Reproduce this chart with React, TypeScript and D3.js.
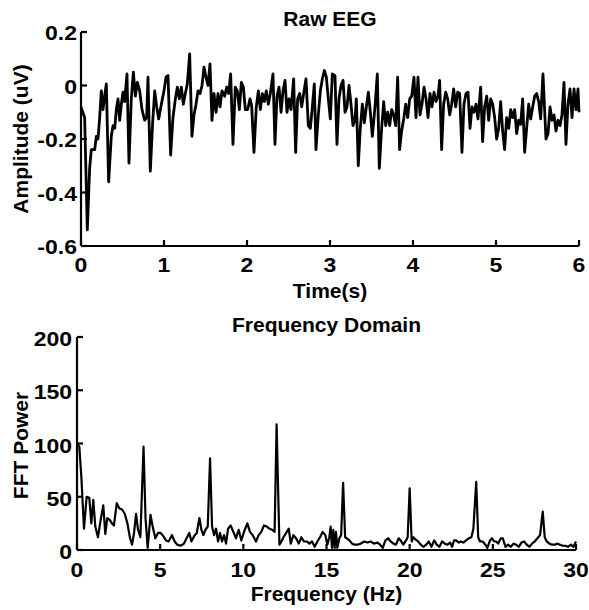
import React from "react";
import * as d3 from "d3";

// ---------- Raw EEG (time in s, amplitude in uV) ----------
const eegTime = [
  0, 0.044, 0.076, 0.104, 0.124, 0.165, 0.185, 0.205, 0.225, 0.245, 0.265, 0.285, 0.305, 0.333, 0.365, 0.386,
  0.406, 0.426, 0.446, 0.466, 0.486, 0.506, 0.526, 0.554, 0.578, 0.606, 0.631, 0.655, 0.679, 0.707, 0.735, 0.767,
  0.791, 0.807, 0.835, 0.863, 0.888, 0.912, 0.936, 0.968, 1.0, 1.024, 1.048, 1.08, 1.108, 1.137, 1.161, 1.185,
  1.209, 1.233, 1.257, 1.281, 1.309, 1.337, 1.361, 1.386, 1.41, 1.434, 1.458, 1.482, 1.506, 1.53, 1.554, 1.578,
  1.602, 1.627, 1.651, 1.675, 1.699, 1.731, 1.755, 1.779, 1.803, 1.831, 1.859, 1.884, 1.908, 1.932, 1.956, 1.98,
  2.008, 2.036, 2.056, 2.084, 2.112, 2.137, 2.161, 2.185, 2.209, 2.233, 2.257, 2.281, 2.313, 2.337, 2.361, 2.386,
  2.41, 2.434, 2.458, 2.482, 2.506, 2.53, 2.562, 2.586, 2.61, 2.635, 2.659, 2.683, 2.711, 2.739, 2.763, 2.787,
  2.811, 2.831, 2.859, 2.884, 2.908, 2.932, 2.956, 2.98, 3.004, 3.028, 3.06, 3.084, 3.108, 3.133, 3.157, 3.181,
  3.205, 3.229, 3.253, 3.277, 3.301, 3.317, 3.341, 3.365, 3.39, 3.414, 3.438, 3.462, 3.486, 3.51, 3.542, 3.57,
  3.594, 3.622, 3.647, 3.671, 3.695, 3.719, 3.743, 3.767, 3.791, 3.815, 3.839, 3.863, 3.888, 3.912, 3.936, 3.96,
  3.984, 4.012, 4.036, 4.06, 4.084, 4.108, 4.133, 4.157, 4.181, 4.205, 4.229, 4.253, 4.277, 4.301, 4.321, 4.345,
  4.369, 4.394, 4.418, 4.442, 4.466, 4.49, 4.514, 4.538, 4.562, 4.59, 4.614, 4.639, 4.663, 4.687, 4.711, 4.735,
  4.759, 4.783, 4.815, 4.839, 4.863, 4.888, 4.912, 4.936, 4.96, 4.984, 5.008, 5.032, 5.056, 5.08, 5.104, 5.128,
  5.153, 5.177, 5.201, 5.225, 5.249, 5.273, 5.297, 5.321, 5.345, 5.369, 5.394, 5.418, 5.442, 5.466, 5.49, 5.514,
  5.538, 5.566, 5.602, 5.627, 5.651, 5.675, 5.699, 5.723, 5.747, 5.771, 5.795, 5.819, 5.843, 5.867, 5.892, 5.916,
  5.94, 5.964, 5.988, 6.0,
];
const eegAmp = [
  -0.08, -0.12, -0.54, -0.31, -0.24, -0.24, -0.19, -0.2, -0.12, -0.02, -0.09, -0.04, 0.006, -0.36, -0.19, -0.15,
  -0.16, -0.09, -0.05, -0.13, -0.07, -0.025, -0.06, 0.043, -0.29, -0.05, 0.05, -0.04, 0.012, -0.02, -0.09, -0.13,
  -0.12, 0.031, -0.32, -0.14, -0.02, -0.08, -0.125, -0.07, -0.02, 0.031, 0.037, -0.26, -0.12, -0.05, -0.006, -0.05,
  -0.006, -0.07, -0.03, 0.006, 0.118, -0.19, -0.11, -0.07, -0.02, -0.03, 0, 0.069, 0.031, 0, 0.081, -0.13,
  -0.03, -0.1, -0.03, -0.08, -0.02, -0.04, -0.006, -0.03, 0.043, -0.22, -0.006, -0.02, -0.09, 0.012, -0.006, -0.09,
  -0.09, -0.05, -0.075, -0.25, -0.08, -0.02, -0.09, -0.03, -0.06, -0.02, -0.07, -0.03, 0.043, -0.22, -0.04, -0.006,
  -0.1, -0.02, 0.019, -0.1, -0.05, -0.09, 0.025, -0.25, -0.05, -0.03, -0.08, -0.03, 0.025, -0.15, -0.16, -0.08,
  0.006, -0.24, -0.11, -0.02, 0.025, 0.056, 0.031, -0.05, -0.125, 0.043, 0.037, -0.22, -0.05, 0, 0.019, -0.1,
  -0.08, 0, -0.07, -0.15, -0.13, -0.05, -0.3, -0.16, -0.07, -0.14, -0.08, -0.025, -0.1, -0.19, -0.08, 0.043,
  -0.31, -0.16, -0.06, -0.15, -0.1, -0.15, -0.09, -0.11, -0.15, 0.031, -0.24, -0.17, -0.125, -0.07, -0.12, -0.05,
  -0.04, 0.031, -0.12, 0.031, -0.11, -0.07, -0.006, -0.05, -0.12, -0.03, -0.08, -0.025, -0.06, -0.04, 0.019, -0.24,
  -0.07, -0.025, -0.05, -0.11, -0.07, -0.013, -0.08, -0.025, -0.03, -0.25, -0.07, -0.03, -0.025, -0.16, -0.08, -0.1,
  -0.07, -0.125, -0.006, -0.21, -0.08, -0.04, -0.13, -0.05, -0.07, -0.12, -0.2, -0.16, -0.06, -0.17, -0.24, -0.12,
  -0.16, -0.09, -0.12, -0.09, -0.18, -0.13, -0.145, -0.05, -0.25, -0.16, -0.07, -0.125, -0.08, -0.04, -0.03, -0.06,
  -0.125, 0.043, -0.2, -0.18, -0.08, -0.13, -0.11, -0.17, -0.13, -0.15, -0.11, 0.012, -0.22, -0.07, -0.013, -0.12,
  -0.013, -0.09, -0.013, -0.1,
];
const eegXTicks = [0, 1, 2, 3, 4, 5, 6];
const eegYTicks = [-0.6, -0.4, -0.2, 0, 0.2];
const eegYTickLabels = ["-0.6", "-0.4", "-0.2", "0", "0.2"];

// ---------- Frequency domain ----------
const fftFreq = [
  0, 0.14, 0.26, 0.42, 0.58, 0.74, 0.86, 0.98, 1.1, 1.26, 1.42, 1.58, 1.7, 1.82, 1.98, 2.1,
  2.22, 2.39, 2.55, 2.71, 2.87, 3.03, 3.19, 3.31, 3.43, 3.55, 3.67, 3.81, 4.0, 4.12, 4.25, 4.42,
  4.55, 4.71, 4.87, 5.03, 5.19, 5.35, 5.51, 5.71, 5.87, 6.03, 6.23, 6.43, 6.59, 6.75, 6.88, 7.04,
  7.2, 7.36, 7.48, 7.6, 7.72, 7.86, 8.0, 8.12, 8.24, 8.36, 8.48, 8.6, 8.72, 8.84, 8.96, 9.08,
  9.24, 9.4, 9.56, 9.72, 9.88, 10.04, 10.24, 10.4, 10.56, 10.76, 10.92, 11.08, 11.24, 11.41, 11.57, 11.73,
  11.88, 12.0, 12.17, 12.29, 12.41, 12.57, 12.73, 12.85, 13.01, 13.17, 13.33, 13.49, 13.65, 13.81, 13.97, 14.13,
  14.29, 14.45, 14.61, 14.77, 14.93, 15.05, 15.17, 15.25, 15.33, 15.41, 15.49, 15.57, 15.65, 15.77, 15.88, 16.0,
  16.12, 16.22, 16.38, 16.54, 16.7, 16.86, 17.06, 17.26, 17.46, 17.66, 17.86, 18.06, 18.22, 18.38, 18.54, 18.7,
  18.86, 19.02, 19.18, 19.34, 19.46, 19.62, 19.78, 19.88, 20.0, 20.12, 20.22, 20.34, 20.51, 20.67, 20.83, 20.99,
  21.15, 21.31, 21.47, 21.63, 21.79, 21.95, 22.11, 22.27, 22.43, 22.55, 22.67, 22.79, 22.95, 23.07, 23.23, 23.39,
  23.55, 23.71, 23.83, 24.0, 24.12, 24.23, 24.39, 24.55, 24.67, 24.83, 24.95, 25.08, 25.2, 25.32, 25.48, 25.6,
  25.76, 25.92, 26.08, 26.24, 26.4, 26.56, 26.72, 26.88, 27.04, 27.2, 27.36, 27.52, 27.68, 27.84, 28.0, 28.12,
  28.24, 28.4, 28.56, 28.72, 28.88, 29.04, 29.2, 29.36, 29.52, 29.69, 29.85, 30.0,
];
const fftPower = [
  100, 97, 69, 20, 50, 49, 25, 47, 22, 12, 28, 42, 15, 30, 28, 25,
  23, 44, 39, 38, 34, 25, 11, 5, 16, 34, 19, 12, 97, 30, 2, 33,
  22, 11, 16, 16, 13, 9, 8, 14, 8, 5, 4, 6, 11, 16, 8, 13,
  16, 30, 19, 14, 19, 22, 86, 22, 14, 20, 8, 16, 8, 14, 6, 20,
  23, 17, 11, 19, 9, 17, 25, 17, 14, 8, 14, 17, 23, 22, 20, 19,
  17, 118, 5, 8, 12, 16, 20, 6, 14, 11, 6, 12, 8, 8, 6, 8,
  3, 8, 12, 17, 14, 5, 12, 22, 2, 19, 2, 17, 2, 11, 14, 63,
  12, 11, 9, 6, 5, 5, 6, 8, 7, 8, 6, 7, 5, 2, 9, 11,
  8, 6, 5, 11, 9, 5, 9, 12, 58, 8, 12, 10, 8, 5, 3, 5,
  8, 3, 9, 5, 3, 8, 6, 5, 7, 3, 9, 9, 7, 8, 7, 9,
  11, 12, 20, 64, 12, 8, 8, 5, 2, 9, 11, 8, 8, 6, 11, 11,
  3, 5, 3, 6, 5, 3, 7, 8, 5, 3, 6, 8, 11, 14, 36, 12,
  8, 6, 5, 5, 6, 5, 4, 4, 3, 5, 3, 8,
];
const fftXTicks = [0, 5, 10, 15, 20, 25, 30];
const fftYTicks = [0, 50, 100, 150, 200];

const FONT = "'Liberation Sans', Arial, Helvetica, sans-serif";

function TickLabel(props: { x: number; y: number; anchor: "start" | "middle" | "end"; text: string }) {
  return (
    <text
      transform={`translate(${props.x}, ${props.y}) scale(1.15, 1)`}
      textAnchor={props.anchor}
      fontSize={20}
    >
      {props.text}
    </text>
  );
}

export default function App() {
  // top panel geometry
  const t = { left: 81, right: 579, top: 32, bottom: 246 };
  const xT = d3.scaleLinear().domain([0, 6]).range([t.left, t.right]);
  const yT = d3.scaleLinear().domain([-0.6, 0.2]).range([t.bottom, t.top]);
  const eegLine = d3
    .line<number>()
    .x((_, i) => xT(eegTime[i]))
    .y((d) => yT(d))(eegAmp) as string;

  // bottom panel geometry
  const b = { left: 77, right: 576, top: 337, bottom: 550 };
  const xB = d3.scaleLinear().domain([0, 30]).range([b.left, b.right]);
  const yB = d3.scaleLinear().domain([0, 200]).range([b.bottom, b.top]);
  const fftLine = d3
    .line<number>()
    .x((_, i) => xB(fftFreq[i]))
    .y((d) => yB(d))(fftPower) as string;

  const tickLen = 6;
  const labelFs = 21;

  return (
    <svg
      width={589}
      height={610}
      style={{ position: "absolute", left: 0, top: 0, background: "#fff" }}
      fontFamily={FONT}
      fontWeight="bold"
    >
      <rect x={0} y={0} width={589} height={610} fill="#fff" />
      {/* ===== Top: Raw EEG ===== */}
      <text x={(t.left + t.right) / 2} y={26} textAnchor="middle" fontSize={labelFs}>
        Raw EEG
      </text>
      <path d={eegLine} fill="none" stroke="#000" strokeWidth={2.8} strokeLinejoin="round" />
      <line x1={t.left} x2={t.left} y1={t.top} y2={t.bottom} stroke="#000" strokeWidth={2.2} />
      <line x1={t.left} x2={t.right} y1={t.bottom} y2={t.bottom} stroke="#000" strokeWidth={2.2} />
      {eegYTicks.map((v, i) => (
        <g key={"ty" + i}>
          <line x1={t.left} x2={t.left + tickLen} y1={yT(v)} y2={yT(v)} stroke="#000" strokeWidth={2.2} />
          <TickLabel x={t.left - 4} y={yT(v) + 8} anchor="end" text={eegYTickLabels[i]} />
        </g>
      ))}
      {eegXTicks.map((v, i) => (
        <g key={"tx" + i}>
          <line x1={xT(v)} x2={xT(v)} y1={t.bottom} y2={t.bottom - tickLen} stroke="#000" strokeWidth={2.2} />
          <TickLabel x={xT(v)} y={t.bottom + 26} anchor="middle" text={String(v)} />
        </g>
      ))}
      <text x={(t.left + t.right) / 2} y={298} textAnchor="middle" fontSize={labelFs}>
        Time(s)
      </text>
      <text
        transform={`translate(28, ${(t.top + t.bottom) / 2}) rotate(-90)`}
        textAnchor="middle"
        fontSize={labelFs}
      >
        Amplitude (uV)
      </text>

      {/* ===== Bottom: Frequency Domain ===== */}
      <text x={(b.left + b.right) / 2} y={332} textAnchor="middle" fontSize={labelFs}>
        Frequency Domain
      </text>
      <path d={fftLine} fill="none" stroke="#000" strokeWidth={2.2} strokeLinejoin="round" />
      <line x1={b.left} x2={b.left} y1={b.top} y2={b.bottom} stroke="#000" strokeWidth={2.2} />
      <line x1={b.left} x2={b.right} y1={b.bottom} y2={b.bottom} stroke="#000" strokeWidth={2.2} />
      {fftYTicks.map((v, i) => (
        <g key={"by" + i}>
          <line x1={b.left} x2={b.left + tickLen} y1={yB(v)} y2={yB(v)} stroke="#000" strokeWidth={2.2} />
          <TickLabel x={b.left - 5} y={yB(v) + 9} anchor="end" text={String(v)} />
        </g>
      ))}
      {fftXTicks.map((v, i) => (
        <g key={"bx" + i}>
          <line x1={xB(v)} x2={xB(v)} y1={b.bottom} y2={b.bottom - tickLen} stroke="#000" strokeWidth={2.2} />
          <TickLabel x={xB(v)} y={b.bottom + 27} anchor="middle" text={String(v)} />
        </g>
      ))}
      <text x={(b.left + b.right) / 2} y={601} textAnchor="middle" fontSize={labelFs}>
        Frequency (Hz)
      </text>
      <text
        transform={`translate(28, ${(b.top + b.bottom) / 2 + 2}) rotate(-90)`}
        textAnchor="middle"
        fontSize={labelFs}
      >
        FFT Power
      </text>
    </svg>
  );
}
